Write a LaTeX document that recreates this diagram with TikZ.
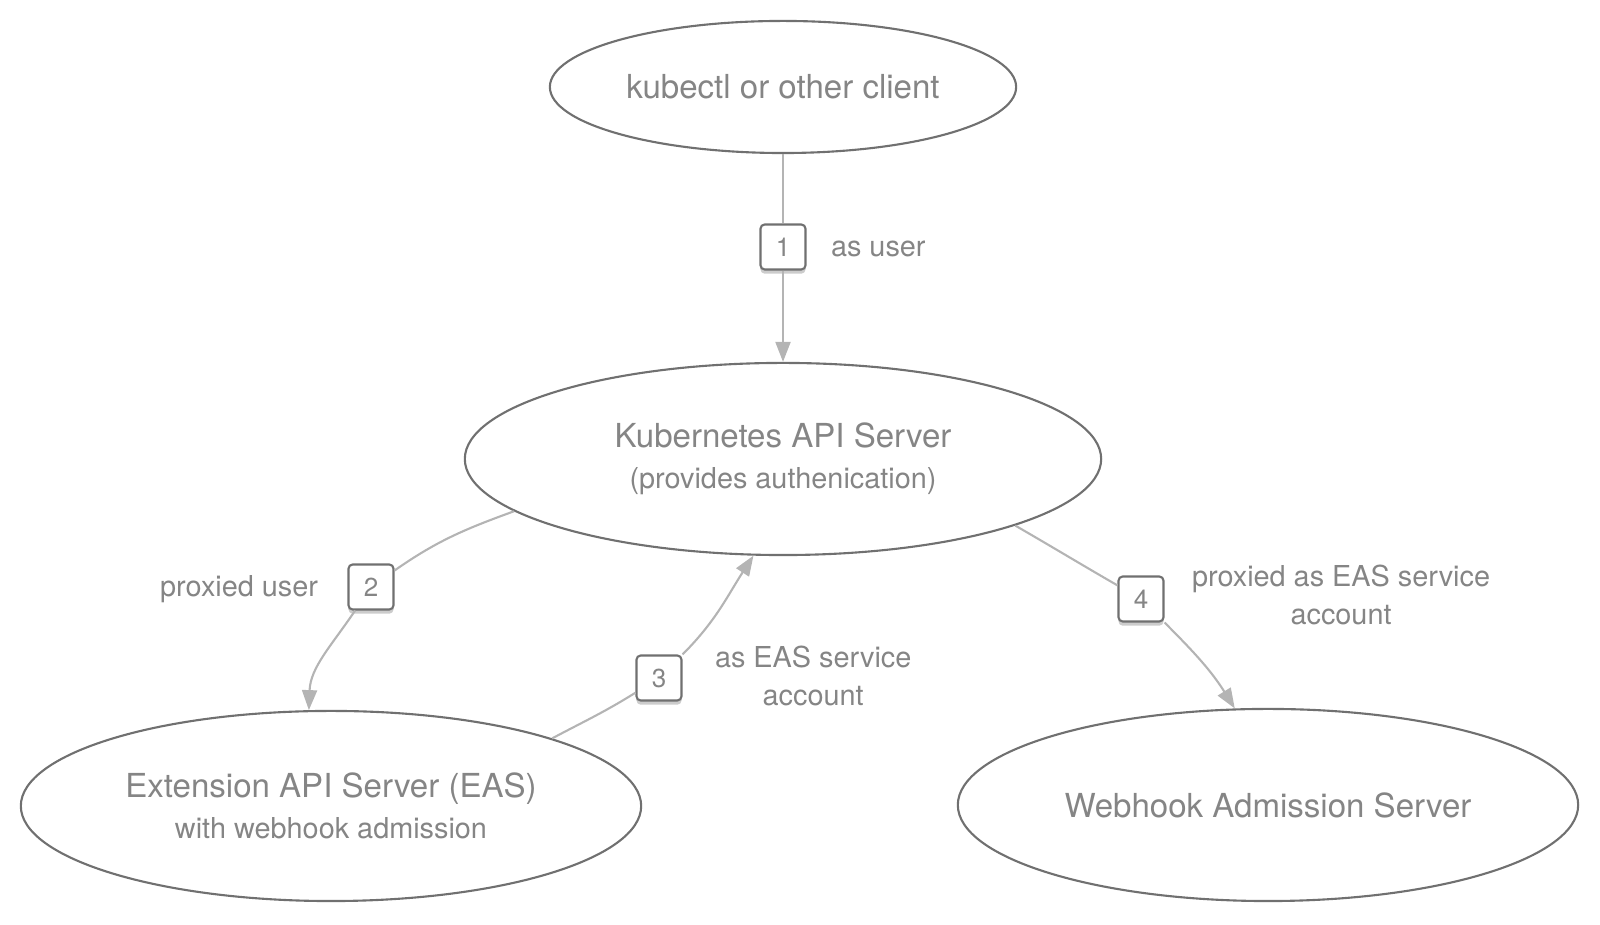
\documentclass[tikz,border=0pt]{standalone}
\usepackage{fontspec}
\setmainfont{TeX Gyre Heros}
\usetikzlibrary{arrows.meta, positioning, shapes.geometric, shadows}
\definecolor{outline}{HTML}{707070}
\definecolor{conncol}{HTML}{B4B4B4}
\definecolor{txtcol}{HTML}{858585}
\newcommand{\bigtxt}{\fontsize{9.4pt}{11.6pt}\selectfont}
\newcommand{\smalltxt}{\fontsize{8.2pt}{10.8pt}\selectfont}
\tikzset{
  server/.style={ellipse, draw=outline, line width=0.6pt, inner sep=0pt, align=center, text=txtcol, font=\bigtxt},
  numbox/.style={rectangle, draw=outline, line width=0.6pt, rounded corners=1.2pt, fill=white, minimum size=0.45cm, inner sep=0pt, text=txtcol, font=\fontsize{7.4pt}{9pt}\selectfont, drop shadow={shadow xshift=0pt, shadow yshift=-1.2pt, opacity=0.4}},
  lbl/.style={text=txtcol, font=\smalltxt, align=center},
  line/.style={draw=conncol, line width=0.6pt, -{Triangle[length=0.2cm, width=0.15cm]}}
}
\begin{document}
\begin{tikzpicture}[x=0.01cm, y=0.01cm]
    \useasboundingbox (0,0) rectangle (1600,925);
    \node[server, minimum width=4.66cm, minimum height=1.32cm] (client) at (783,838) {kubectl or other client};
    \node[server, minimum width=6.36cm, minimum height=1.92cm] (api) at (783,466) {Kubernetes API Server\\{\smalltxt (provides authenication)}};
    \node[server, minimum width=6.2cm, minimum height=1.9cm] (eas) at (331,119) {Extension API Server (EAS)\\{\smalltxt with webhook admission}};
    \node[server, minimum width=6.2cm, minimum height=1.92cm] (hook) at (1268,120) {Webhook Admission Server};

    \node[numbox] (b1) at (783,678) {1};
    \node[numbox] (b2) at (371,338) {2};
    \node[numbox] (b3) at (659,247) {3};
    \node[numbox] (b4) at (1141,326) {4};

    \node[lbl, right=0.12cm of b1, yshift=-0.02cm] (l1) {as user};
    \node[lbl, left=0.17cm of b2, yshift=-0.02cm] (l2) {proxied user};
    \node[lbl, right=0.2cm of b3, yshift=0.02cm] (l3) {as EAS service\\account};
    \node[lbl, right=0.15cm of b4, yshift=0.04cm] (l4) {proxied as EAS service\\account};

    \draw[line] (client) -- (b1) -- (api);
    \draw[line] (api.191) to[out=200, in=35] (b2) to[out=236, in=88] (eas.103);
    \draw[line] (eas.17) to[out=28, in=212] (b3) to[out=45, in=237] (api.253);
    \draw[line] (api.344) to[out=-30, in=150] (b4) to[out=-45, in=122] (hook.109);
  \end{tikzpicture}
\end{document}
